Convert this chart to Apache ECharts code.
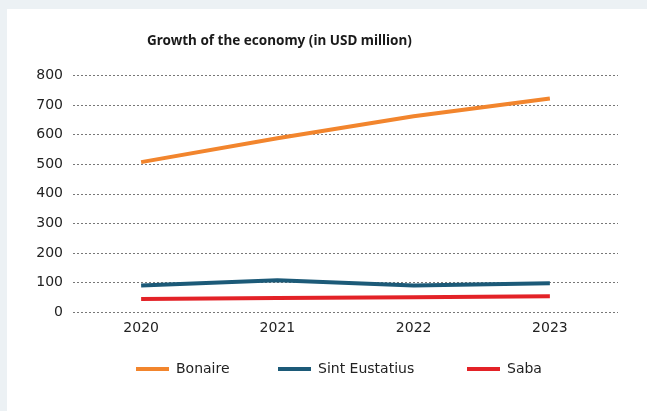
<!DOCTYPE html>
<html><head><meta charset="utf-8">
<script src="https://cdn.jsdelivr.net/npm/echarts@6/dist/echarts.min.js"></script>
<style>html,body{margin:0;padding:0;background:#ecf1f4;}#c{width:647px;height:411px;}</style>
</head><body><div id="c"></div>
<script>
const years = ['2020','2021','2022','2023'];
const bonaire = [507, 588, 662, 722];
const sintEustatius = [90, 107, 90, 97];
const saba = [44, 47, 50, 53];
const yTicks = [0,100,200,300,400,500,600,700,800];
const seriesNames = ['Bonaire','Sint Eustatius','Saba'];

const chart = echarts.init(document.getElementById('c'));
const font = 'DejaVu Sans';
const legendLefts = [131, 273, 462];
chart.setOption({
  backgroundColor: '#ecf1f4',
  animation: false,
  graphic: [{type:'rect', shape:{x:7,y:9,width:640,height:402}, style:{fill:'#ffffff'}, z:-10}],
  title: {text:'Growth of the economy (in USD million)', left:142, top:29,
    textStyle:{fontFamily:'Noto Sans', fontSize:13.5, fontWeight:'bold', color:'#1a1a1a'}},
  grid: {left:73, right:29, top:75.5, bottom:99},
  legend: seriesNames.map((n,i)=>({left:legendLefts[i], top:357, itemWidth:33, itemHeight:4, itemGap:0, icon:'rect',
    textStyle:{fontFamily:font, fontSize:14, color:'#222', padding: i===2 ? [4,0,0,2] : [0,0,0,2]},
    data:[n]})),
  xAxis: {type:'category', data:years, boundaryGap:true,
    axisLine:{show:false}, axisTick:{show:false},
    axisLabel:{fontFamily:font, fontSize:14, color:'#222', margin:9}},
  yAxis: {type:'value', min:yTicks[0], max:yTicks[yTicks.length-1], interval:100,
    axisLine:{show:false}, axisTick:{show:false},
    axisLabel:{fontFamily:font, fontSize:14, color:'#222', margin:10},
    splitLine:{lineStyle:{color:'#777', type:[2,2], width:1}}},
  series: [
    {name:seriesNames[0], type:'line', data:bonaire, symbol:'none', lineStyle:{width:4, color:'#f2852d'}, itemStyle:{color:'#f2852d'}},
    {name:seriesNames[1], type:'line', data:sintEustatius, symbol:'none', lineStyle:{width:4, color:'#1c5a78'}, itemStyle:{color:'#1c5a78'}},
    {name:seriesNames[2], type:'line', data:saba, symbol:'none', lineStyle:{width:4, color:'#e32227'}, itemStyle:{color:'#e32227'}}
  ]
});
</script></body></html>
